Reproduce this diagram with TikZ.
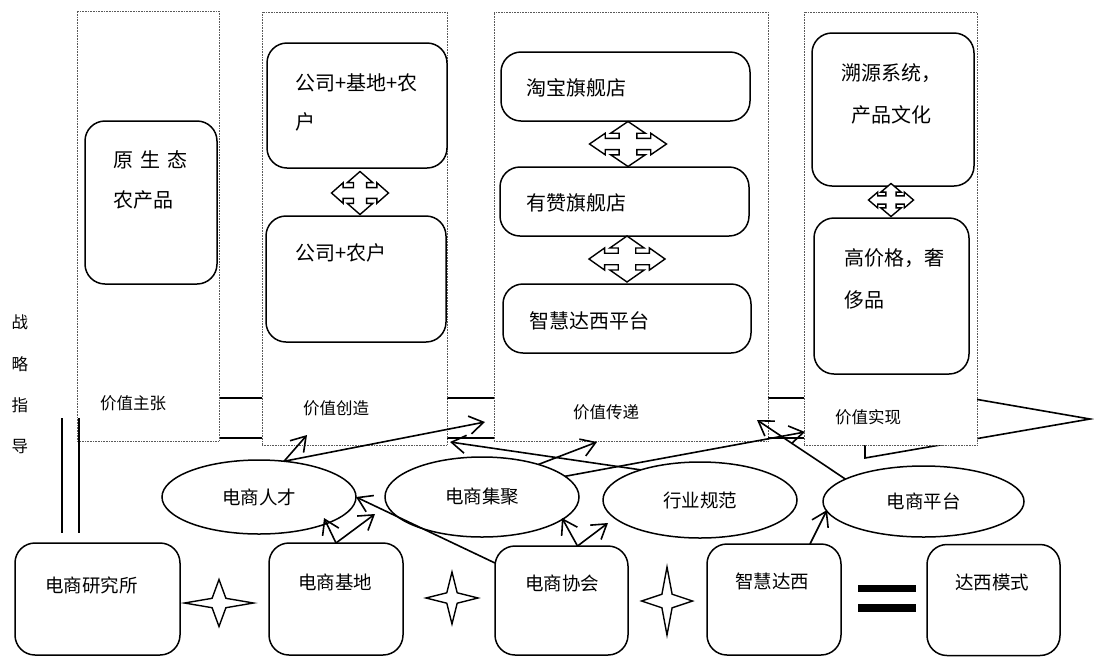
\documentclass[tikz,border=0pt]{standalone}
\usepackage{fontspec}
\setmainfont{Noto Sans CJK SC}
\usetikzlibrary{arrows.meta,shapes.geometric,calc}
\newcommand{\quadarr}[4]{%
 \draw[quadstyle, shift={(#1,#2)}, xscale=#3, yscale=#4]
  (1,0) -- (0.59,0.48) -- (0.59,0.25) -- (0.23,0.25) -- (0.23,0.48) -- (0.45,0.48) -- (0,1)
  -- (-0.45,0.48) -- (-0.23,0.48) -- (-0.23,0.25) -- (-0.59,0.25) -- (-0.59,0.48) -- (-1,0)
  -- (-0.59,-0.48) -- (-0.59,-0.25) -- (-0.23,-0.25) -- (-0.23,-0.48) -- (-0.45,-0.48) -- (0,-1)
  -- (0.45,-0.48) -- (0.23,-0.48) -- (0.23,-0.25) -- (0.59,-0.25) -- (0.59,-0.48) -- cycle;}
\newcommand{\fourstar}[4]{%
 \draw[starstyle, shift={(#1,#2)}, xscale=#3, yscale=#4]
  (1,0) -- (0.2,0.2) -- (0,1) -- (-0.2,0.2) -- (-1,0) -- (-0.2,-0.2) -- (0,-1) -- (0.2,-0.2) -- cycle;}
\tikzset{
  panel/.style={draw=gray!70!black, densely dotted, line width=0.6pt, fill=white, inner sep=0pt, outer sep=0pt},
  rbox/.style={draw, line width=1.5pt, rounded corners=20pt, fill=white, inner sep=0pt, outer sep=0pt},
  oval/.style={draw, ellipse, line width=1.5pt, fill=white, inner sep=0pt, outer sep=0pt, font=\fontsize{18.5}{20}\selectfont},
  btxt/.style={anchor=west, inner sep=0pt, font=\fontsize{18.5}{20}\selectfont},
  ptxt/.style={anchor=west, inner sep=0pt, font=\fontsize{20}{22}\selectfont},
  ltxt/.style={anchor=west, inner sep=0pt, font=\fontsize{16.5}{18}\selectfont},
  conn/.style={line width=1.6pt, -{Straight Barb[length=14pt,width=18pt]}},
  quadstyle/.style={draw, line width=1.4pt, fill=white, line join=miter},
  starstyle/.style={draw, line width=1.4pt, fill=white},
}
\begin{document}
\begin{tikzpicture}[x=1pt,y=-1pt]
\useasboundingbox (0,0) rectangle (1094,657);
% background big arrow
\draw[line width=1.6pt, fill=white] (80,398) -- (865,398) -- (865,380) -- (1090,419) -- (865,458) -- (865,438) -- (80,438) -- cycle;
% panels
\node[panel, minimum width=142pt, minimum height=430pt] (v1) at (148,226) {};
\node[panel, minimum width=185pt, minimum height=433pt] (v2) at (354.5,228.5) {};
\node[panel, minimum width=274pt, minimum height=429pt] (v3) at (631,226.5) {};
\node[panel, minimum width=173pt, minimum height=433pt] (v4) at (890.5,228.5) {};
% panel labels
\node[ltxt] (l1) at (100,403) {价值主张};
\node[ltxt] (l2) at (303,408) {价值创造};
\node[ltxt] (l3) at (573,412) {价值传递};
\node[ltxt] (l4) at (835,417) {价值实现};
% boxes in panels
\node[rbox, minimum width=132pt, minimum height=163pt] (ysz) at (151,202.5) {};
\node[ptxt] (ysz1) at (113,160) {原\hspace{7pt}生\hspace{7pt}态};
\node[ptxt] (ysz2) at (113,200) {农产品};
\node[rbox, minimum width=180pt, minimum height=125pt] (gjn) at (357,105.5) {};
\node[ptxt] (gjn1) at (295,83) {公司+基地+农};
\node[ptxt] (gjn2) at (295,122) {户};
\node[rbox, minimum width=180pt, minimum height=126pt] (gn) at (356,279) {};
\node[ptxt] (gn1) at (295,253) {公司+农户};
\quadarr{360}{193}{28.5}{21.5}
\node[rbox, minimum width=249pt, minimum height=69pt] (tb) at (625.5,86.5) {};
\node[ptxt] (tb1) at (526,88) {淘宝旗舰店};
\node[rbox, minimum width=249pt, minimum height=69pt] (yz) at (624.5,201.5) {};
\node[ptxt] (yz1) at (526,203) {有赞旗舰店};
\node[rbox, minimum width=248pt, minimum height=69pt] (zp) at (627,318.5) {};
\node[ptxt] (zp1) at (529,321) {智慧达西平台};
\quadarr{628}{144}{38.5}{22.5}
\quadarr{627}{259}{38}{23}
\node[rbox, minimum width=162pt, minimum height=153pt] (sy) at (893,109.5) {};
\node[ptxt] (sy1) at (841,73) {溯源系统，};
\node[ptxt] (sy2) at (851,115) {产品文化};
\node[rbox, minimum width=155pt, minimum height=156pt] (gj) at (891.5,296) {};
\node[ptxt] (gj1) at (844,258) {高价格，奢};
\node[ptxt] (gj2) at (844,300) {侈品};
\quadarr{891}{200}{22.5}{16.5}
% left vertical text
\node[inner sep=0pt, font=\fontsize{16.5}{18}\selectfont] (zl1) at (20,322) {战};
\node[inner sep=0pt, font=\fontsize{16.5}{18}\selectfont] (zl2) at (20,364) {略};
\node[inner sep=0pt, font=\fontsize{16.5}{18}\selectfont] (zl3) at (20,405) {指};
\node[inner sep=0pt, font=\fontsize{16.5}{18}\selectfont] (zl4) at (20,447) {导};
% ellipses
\node[oval, minimum width=194pt, minimum height=74pt] (rc) at (259,497) {电商人才};
\node[oval, minimum width=194pt, minimum height=80pt] (jj) at (482,497) {电商集聚};
\node[oval, minimum width=194pt, minimum height=76pt] (gf) at (700,500) {行业规范};
\node[oval, minimum width=201pt, minimum height=71pt] (dp) at (923.5,501.5) {电商平台};
% bottom boxes
\node[rbox, minimum width=165pt, minimum height=112pt] (yjs) at (97.5,599) {};
\node[btxt] (yjs1) at (45,585) {电商研究所};
\node[rbox, minimum width=134pt, minimum height=112pt] (jd) at (336,599) {};
\node[btxt] (jd1) at (298,582) {电商基地};
\node[rbox, minimum width=133pt, minimum height=109pt] (xh) at (561.5,600.5) {};
\node[btxt] (xh1) at (525,583) {电商协会};
\node[rbox, minimum width=134pt, minimum height=111pt] (zh) at (774,599.5) {};
\node[btxt] (zh1) at (735,581) {智慧达西};
\node[rbox, minimum width=133pt, minimum height=111pt] (dx) at (993.5,600) {};
\node[btxt] (dx1) at (955,582) {达西模式};
% stars and equal sign
\fourstar{219}{603}{34.5}{23.5}
\fourstar{452}{598}{26}{26}
\fourstar{667}{601}{25.5}{34}
\fill (858,585) rectangle (916,592);
\fill (858,604) rectangle (916,612);
% double lines
\draw[line width=1.8pt] (62,418) -- (62,533);
\draw[line width=1.8pt] (79,418) -- (79,533);
% target coordinates
\coordinate (t1) at (307,435);
\coordinate (t2) at (485,422);
\coordinate (t3) at (597,442);
\coordinate (t4) at (805,432);
\coordinate (t5) at (450,442);
\coordinate (t6) at (757,420);
\coordinate (jdt1) at (324,518);
\coordinate (jdt2) at (375,514);
\coordinate (xht1) at (562,518);
\coordinate (xht2) at (608,523);
\coordinate (zht) at (827,510);
% connectors
\draw[conn] (rc.55) -- (t1);
\draw[conn] (rc.55) -- (t2);
\draw[conn] (jj.30) -- (t3);
\draw[conn] (jj.14) -- (t4);
\draw[conn] (gf.153) -- (t5);
\draw[conn] (dp.164) -- (t6);
\draw[conn] (jd.north) -- (jdt1);
\draw[conn] (jd.north) -- (jdt2);
\draw[conn] ([yshift=-17pt]xh.north west) -- (rc.east);
\draw[conn] ([xshift=16pt]xh.north) -- (xht1);
\draw[conn] ([xshift=16pt]xh.north) -- (xht2);
\draw[conn] ([xshift=36pt]zh.north) -- (zht);
\end{tikzpicture}
\end{document}
